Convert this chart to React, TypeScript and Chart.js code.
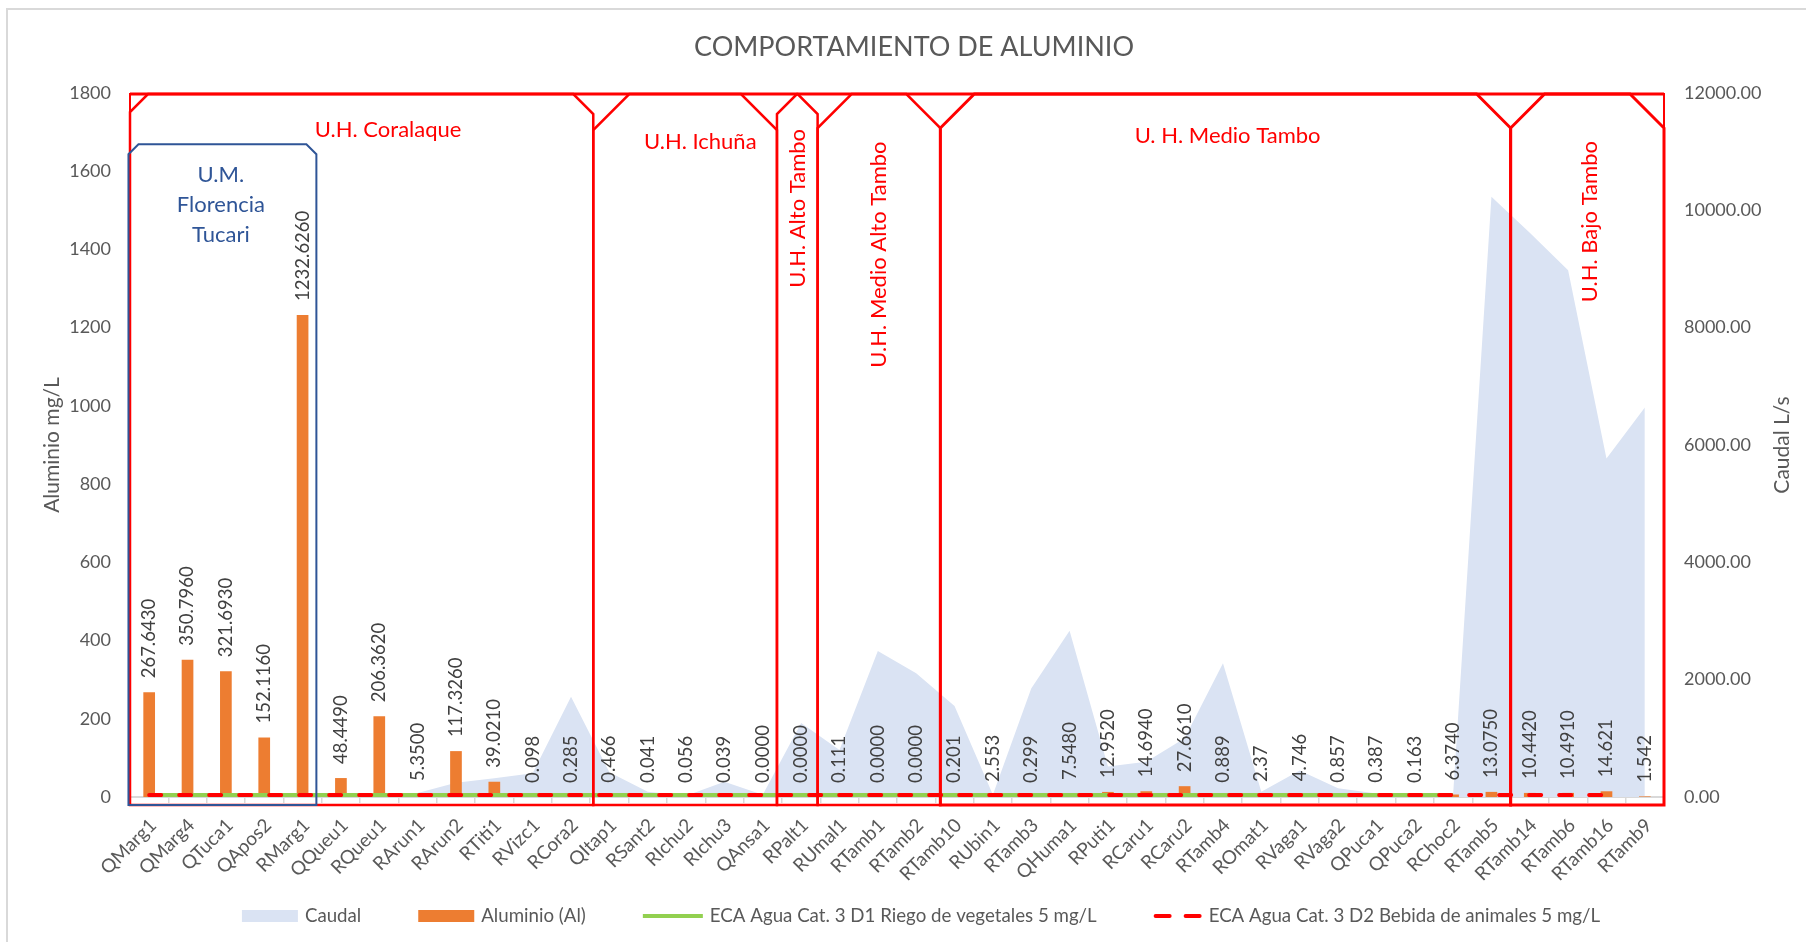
import React, { useEffect, useRef } from "react";
import { Chart, registerables } from "chart.js";

Chart.register(...registerables);

const chartTitle = "COMPORTAMIENTO DE ALUMINIO";
const leftAxisTitle = "Aluminio mg/L";
const rightAxisTitle = "Caudal L/s";

const categories = [
  "QMarg1", "QMarg4", "QTuca1", "QApos2", "RMarg1", "QQueu1", "RQueu1", "RArun1", "RArun2", "RTiti1",
  "RVizc1", "RCora2", "QItap1", "RSant2", "RIchu2", "RIchu3", "QAnsa1", "RPalt1", "RUmal1", "RTamb1",
  "RTamb2", "RTamb10", "RUbin1", "RTamb3", "QHuma1", "RPuti1", "RCaru1", "RCaru2", "RTamb4", "ROmat1",
  "RVaga1", "RVaga2", "QPuca1", "QPuca2", "RChoc2", "RTamb5", "RTamb14", "RTamb6", "RTamb16", "RTamb9",
];

const aluminio = [
  267.643, 350.796, 321.693, 152.116, 1232.626, 48.449, 206.362, 5.35, 117.326, 39.021,
  0.098, 0.285, 0.466, 0.041, 0.056, 0.039, 0, 0, 0.111, 0,
  0, 0.201, 2.553, 0.299, 7.548, 12.952, 14.694, 27.661, 0.889, 2.37,
  4.746, 0.857, 0.387, 0.163, 6.374, 13.075, 10.442, 10.491, 14.621, 1.542,
];

const aluminioLabels = [
  "267.6430", "350.7960", "321.6930", "152.1160", "1232.6260", "48.4490", "206.3620", "5.3500", "117.3260", "39.0210",
  "0.098", "0.285", "0.466", "0.041", "0.056", "0.039", "0.0000", "0.0000", "0.111", "0.0000",
  "0.0000", "0.201", "2.553", "0.299", "7.5480", "12.9520", "14.6940", "27.6610", "0.889", "2.37",
  "4.746", "0.857", "0.387", "0.163", "6.3740", "13.0750", "10.4420", "10.4910", "14.621", "1.542",
];

const caudal = [
  10, 10, 10, 10, 15, 20, 20, 70, 245, 320,
  405, 1710, 420, 90, 20, 260, 40, 1260, 800, 2490,
  2110, 1550, 40, 1850, 2835, 520, 600, 1000, 2280, 90,
  450, 150, 60, 30, 30, 10230, 9620, 8980, 5770, 6640,
];

const ecaRiego = [
  5, 5, 5, 5, 5, 5, 5, 5, 5, 5,
  5, 5, 5, 5, 5, 5, 5, 5, 5, 5,
  5, 5, 5, 5, 5, 5, 5, 5, 5, 5,
  5, 5, 5, 5, 5, null, null, null, null, null,
];

const ecaBebida = [
  5, 5, 5, 5, 5, 5, 5, 5, 5, 5,
  5, 5, 5, 5, 5, 5, 5, 5, 5, 5,
  5, 5, 5, 5, 5, 5, 5, 5, 5, 5,
  5, 5, 5, 5, 5, 5, 5, 5, 5, null,
];

const leftTicks = [0, 200, 400, 600, 800, 1000, 1200, 1400, 1600, 1800];
const leftTickLabels = ["0", "200", "400", "600", "800", "1000", "1200", "1400", "1600", "1800"];
const rightTicks = [0, 2000, 4000, 6000, 8000, 10000, 12000];
const rightTickLabels = ["0.00", "2000.00", "4000.00", "6000.00", "8000.00", "10000.00", "12000.00"];

// hydrographic unit frames, in category-index units
const regions = [
  { from: -0.5, to: 11.58, snipL: 18, snipR: 20, width: 2.5 },
  { from: 11.58, to: 16.37, snipL: 36, snipR: 36, width: 2.5 },
  { from: 16.37, to: 17.43, snipL: 20, snipR: 20, width: 2.5 },
  { from: 17.43, to: 20.63, snipL: 34, snipR: 34, width: 2.5 },
  { from: 20.63, to: 35.5, snipL: 34, snipR: 34, width: 3 },
  { from: 35.5, to: 39.5, snipL: 34, snipR: 34, width: 3 },
];
const unitBox = { from: -0.54, to: 4.36, top: 1669, snip: 10 };

const regionTexts = [
  { lines: ["U.H. Coralaque"], x: 6.23, y: 1705, rot: 0, color: "#FF0000" },
  { lines: ["U.M.", "Florencia", "Tucari"], x: 1.87, y: 1514, rot: 0, color: "#2F5597" },
  { lines: ["U.H. Ichuña"], x: 14.37, y: 1675, rot: 0, color: "#FF0000" },
  { lines: ["U.H. Alto Tambo"], x: 16.92, y: 1505, rot: -90, color: "#FF0000" },
  { lines: ["U.H. Medio Alto Tambo"], x: 19.03, y: 1387, rot: -90, color: "#FF0000" },
  { lines: ["U. H. Medio Tambo"], x: 28.12, y: 1690, rot: 0, color: "#FF0000" },
  { lines: ["U.H. Bajo Tambo"], x: 37.56, y: 1471, rot: -90, color: "#FF0000" },
];

const FONT = "Lato";
const GRAY = "#595959";

function snipBox(ctx: CanvasRenderingContext2D, l: number, r: number, t: number, b: number, sl: number, sr: number) {
  const half = (r - l) / 2;
  sl = Math.min(sl, half);
  sr = Math.min(sr, half);
  ctx.beginPath();
  ctx.moveTo(l, b);
  ctx.lineTo(l, t + sl);
  ctx.lineTo(l + sl, t);
  ctx.lineTo(r - sr, t);
  ctx.lineTo(r, t + sr);
  ctx.lineTo(r, b);
  ctx.closePath();
  ctx.stroke();
}

const overlayPlugin = {
  id: "overlay",
  afterDatasetsDraw(chart: any) {
    const ctx: CanvasRenderingContext2D = chart.ctx;
    const meta = chart.getDatasetMeta(1);
    ctx.save();
    ctx.font = `18.5px ${FONT}`;
    ctx.fillStyle = "#404040";
    ctx.textAlign = "left";
    ctx.textBaseline = "middle";
    meta.data.forEach((bar: any, i: number) => {
      const p = bar.getProps(["x", "y"], true);
      ctx.save();
      ctx.translate(p.x, p.y - 14);
      ctx.rotate(-Math.PI / 2);
      ctx.fillText(aluminioLabels[i], 0, 0);
      ctx.restore();
    });
    ctx.restore();
  },
  afterDraw(chart: any) {
    const ctx: CanvasRenderingContext2D = chart.ctx;
    const xs = chart.scales.x;
    const ys = chart.scales.y;
    const area = chart.chartArea;
    ctx.save();

    // frame (left / top edges of the Excel chart area)
    ctx.strokeStyle = "#D9D9D9";
    ctx.lineWidth = 2;
    ctx.beginPath();
    ctx.moveTo(7, chart.height);
    ctx.lineTo(7, 9);
    ctx.lineTo(chart.width, 9);
    ctx.stroke();

    // title
    ctx.fillStyle = GRAY;
    ctx.font = `27px ${FONT}`;
    ctx.textAlign = "center";
    ctx.textBaseline = "middle";
    ctx.fillText(chartTitle, 914, 47);

    // axis titles
    const midY = (area.top + area.bottom) / 2;
    ctx.font = `21px ${FONT}`;
    ctx.save();
    ctx.translate(52, midY);
    ctx.rotate(-Math.PI / 2);
    ctx.fillText(leftAxisTitle, 0, 0);
    ctx.restore();
    ctx.save();
    ctx.translate(1782, midY);
    ctx.rotate(-Math.PI / 2);
    ctx.fillText(rightAxisTitle, 0, 0);
    ctx.restore();

    // region frames
    const top = area.top + 1;
    const bottom = area.bottom + 8;
    ctx.strokeStyle = "#FF0000";
    ctx.lineJoin = "miter";
    ctx.lineWidth = 2;
    ctx.strokeRect(xs.getPixelForValue(-0.5), top, xs.getPixelForValue(39.5) - xs.getPixelForValue(-0.5), bottom - top);
    regions.forEach((r) => {
      ctx.lineWidth = r.width;
      snipBox(ctx, xs.getPixelForValue(r.from), xs.getPixelForValue(r.to), top, bottom, r.snipL, r.snipR);
    });
    ctx.lineWidth = 3;
    ctx.beginPath();
    ctx.moveTo(xs.getPixelForValue(-0.5), top);
    ctx.lineTo(xs.getPixelForValue(39.5), top);
    ctx.stroke();

    ctx.strokeStyle = "#2F5597";
    ctx.lineWidth = 2;
    snipBox(ctx, xs.getPixelForValue(unitBox.from), xs.getPixelForValue(unitBox.to), ys.getPixelForValue(unitBox.top), bottom, unitBox.snip, unitBox.snip);

    // region texts
    ctx.font = `22px ${FONT}`;
    ctx.textAlign = "center";
    ctx.textBaseline = "middle";
    regionTexts.forEach((t) => {
      ctx.fillStyle = t.color;
      ctx.save();
      ctx.translate(xs.getPixelForValue(t.x), ys.getPixelForValue(t.y));
      ctx.rotate((t.rot * Math.PI) / 180);
      const lh = 30;
      t.lines.forEach((ln, k) => {
        ctx.fillText(ln, 0, (k - (t.lines.length - 1) / 2) * lh);
      });
      ctx.restore();
    });

    // legend
    const ds = chart.data.datasets;
    const items = [
      { kind: "rect", color: "#DAE3F3", w: 56, text: ds[0].label },
      { kind: "rect", color: "#ED7D31", w: 56, text: ds[1].label },
      { kind: "line", color: "#92D050", w: 60, text: ds[2].label },
      { kind: "dash", color: "#FF0000", w: 48, text: ds[3].label },
    ];
    ctx.font = `18.7px ${FONT}`;
    const gapText = 7;
    const gapItem = 57;
    const widths = items.map((it) => it.w + gapText + ctx.measureText(it.text).width);
    const total = widths.reduce((a, b) => a + b, 0) + gapItem * (items.length - 1);
    let lx = 921 - total / 2;
    const ly = 916;
    ctx.textAlign = "left";
    ctx.textBaseline = "middle";
    items.forEach((it, k) => {
      if (it.kind === "rect") {
        ctx.fillStyle = it.color;
        ctx.fillRect(lx, ly - 6, it.w, 12);
      } else {
        ctx.strokeStyle = it.color;
        ctx.lineWidth = 4;
        ctx.lineCap = it.kind === "dash" ? "round" : "butt";
        ctx.setLineDash(it.kind === "dash" ? [14, 16] : []);
        ctx.beginPath();
        ctx.moveTo(lx + (it.kind === "dash" ? 2 : 0), ly);
        ctx.lineTo(lx + it.w - (it.kind === "dash" ? 2 : 0), ly);
        ctx.stroke();
        ctx.setLineDash([]);
        ctx.lineCap = "butt";
      }
      ctx.fillStyle = GRAY;
      ctx.fillText(it.text, lx + it.w + gapText, ly);
      lx += widths[k] + gapItem;
    });

    ctx.restore();
  },
};

export default function App() {
  const canvasRef = useRef<HTMLCanvasElement | null>(null);

  useEffect(() => {
    if (!canvasRef.current) return;
    const chart = new Chart(canvasRef.current, {
      type: "bar",
      data: {
        labels: categories,
        datasets: [
          {
            type: "line",
            label: "Caudal",
            data: caudal,
            yAxisID: "y1",
            fill: "origin",
            backgroundColor: "#DAE3F3",
            borderColor: "rgba(0,0,0,0)",
            borderWidth: 0,
            pointRadius: 0,
            tension: 0,
            order: 4,
          } as any,
          {
            type: "bar",
            label: "Aluminio (Al)",
            data: aluminio,
            yAxisID: "y",
            backgroundColor: "#ED7D31",
            barPercentage: 0.305,
            categoryPercentage: 1,
            order: 3,
          },
          {
            type: "line",
            label: "ECA Agua Cat. 3 D1 Riego de vegetales 5 mg/L",
            data: ecaRiego,
            yAxisID: "y",
            borderColor: "#92D050",
            backgroundColor: "#92D050",
            borderWidth: 4,
            pointRadius: 0,
            fill: false,
            order: 2,
          } as any,
          {
            type: "line",
            label: "ECA Agua Cat. 3 D2 Bebida de animales 5 mg/L",
            data: ecaBebida,
            yAxisID: "y",
            borderColor: "#FF0000",
            backgroundColor: "#FF0000",
            borderWidth: 4,
            borderDash: [12, 18],
            borderCapStyle: "round",
            pointRadius: 0,
            fill: false,
            order: 1,
          } as any,
        ],
      },
      options: {
        animation: false,
        responsive: false,
        devicePixelRatio: 1,
        layout: { padding: { left: 8, right: 8, top: 93, bottom: 0 } },
        plugins: {
          legend: { display: false },
          title: { display: false },
          tooltip: { enabled: false },
        },
        scales: {
          x: {
            offset: true,
            grid: {
              display: true,
              drawOnChartArea: false,
              drawTicks: true,
              tickLength: 6,
              color: "#D9D9D9",
              lineWidth: 1.5,
              offset: true,
            },
            border: { display: true, color: "#D9D9D9", width: 2 },
            ticks: {
              autoSkip: false,
              maxRotation: 45,
              minRotation: 45,
              color: GRAY,
              font: { size: 19, family: FONT },
              padding: 11,
              labelOffset: 4,
            },
            afterFit: (s: any) => {
              s.height = 145;
            },
          },
          y: {
            position: "left",
            min: 0,
            max: 1800,
            grid: { display: false, drawTicks: false },
            border: { display: false },
            afterBuildTicks: (s: any) => {
              s.ticks = leftTicks.map((v) => ({ value: v }));
            },
            ticks: {
              color: GRAY,
              font: { size: 18, family: FONT },
              padding: 19,
              callback: (v: any) => leftTickLabels[leftTicks.indexOf(Number(v))] ?? "",
            },
            afterFit: (s: any) => {
              s.width = 122;
            },
          },
          y1: {
            position: "right",
            min: 0,
            max: 12000,
            grid: { display: false, drawTicks: false },
            border: { display: false },
            afterBuildTicks: (s: any) => {
              s.ticks = rightTicks.map((v) => ({ value: v }));
            },
            ticks: {
              color: GRAY,
              font: { size: 18, family: FONT },
              padding: 20,
              callback: (v: any) => rightTickLabels[rightTicks.indexOf(Number(v))] ?? "",
            },
            afterFit: (s: any) => {
              s.width = 134;
            },
          },
        },
      } as any,
      plugins: [overlayPlugin],
    });
    return () => chart.destroy();
  }, []);

  return (
    <div style={{ position: "absolute", left: 0, top: 0, width: 1806, height: 942, background: "#ffffff" }}>
      <canvas ref={canvasRef} width={1806} height={942} style={{ display: "block" }} />
    </div>
  );
}
